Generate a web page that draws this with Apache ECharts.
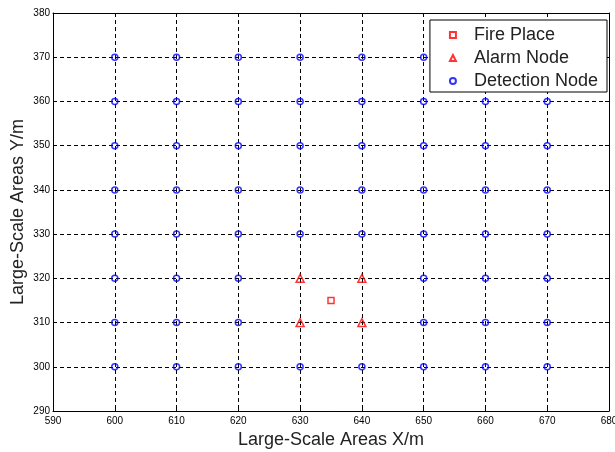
<!DOCTYPE html>
<html>
<head>
<meta charset="utf-8">
<script src="https://cdn.jsdelivr.net/npm/echarts@6/dist/echarts.min.js"></script>
<style>
  html, body { margin: 0; padding: 0; background: #fff; }
  #chart { width: 615px; height: 452px; }
</style>
</head>
<body>
<div id="chart"></div>
<script>
// axis ranges (m)
var xTicks = [590, 600, 610, 620, 630, 640, 650, 660, 670, 680]
var yTicks = [290, 300, 310, 320, 330, 340, 350, 360, 370, 380]

var firePlace = [[635, 315]]

var alarmNodes = [[630, 320], [640, 320], [630, 310], [640, 310]]

var detectionNodes = [
  [600, 370], [610, 370], [620, 370], [630, 370], [640, 370], [650, 370], [660, 370], [670, 370],
  [600, 360], [610, 360], [620, 360], [630, 360], [640, 360], [650, 360], [660, 360], [670, 360],
  [600, 350], [610, 350], [620, 350], [630, 350], [640, 350], [650, 350], [660, 350], [670, 350],
  [600, 340], [610, 340], [620, 340], [630, 340], [640, 340], [650, 340], [660, 340], [670, 340],
  [600, 330], [610, 330], [620, 330], [630, 330], [640, 330], [650, 330], [660, 330], [670, 330],
  [600, 320], [610, 320], [620, 320], [650, 320], [660, 320], [670, 320],
  [600, 310], [610, 310], [620, 310], [650, 310], [660, 310], [670, 310],
  [600, 300], [610, 300], [620, 300], [630, 300], [640, 300], [650, 300], [660, 300], [670, 300]
]

var font = 'Liberation Sans, Arial, sans-serif'
var chart = echarts.init(document.getElementById('chart'))

function axisBase (ticks, extra) {
  var a = {
    type: 'value',
    min: ticks[0],
    max: ticks[ticks.length - 1],
    interval: 10,
    axisLine: { show: true, onZero: false, lineStyle: { color: '#000', width: 1 } },
    axisTick: { show: true, inside: true, length: 4, lineStyle: { color: '#000' } },
    axisLabel: { show: false },
    splitLine: { show: false }
  }
  return Object.assign(a, extra)
}

chart.setOption({
  animation: false,
  grid: { left: 53, right: 6, top: 13, bottom: 41, outerBoundsMode: 'none', containLabel: false },
  xAxis: [
    axisBase(xTicks, {
      position: 'bottom',
      name: 'Large-Scale Areas X/m',
      nameLocation: 'middle',
      nameGap: 20,
      nameMoveOverlap: false,
      nameTextStyle: { fontSize: 18, color: '#222', fontFamily: font },
      axisLabel: { show: true, fontSize: 10, color: '#000', margin: 5, fontFamily: font },
      splitLine: { show: true, lineStyle: { color: '#000', type: [4, 3], width: 1 } }
    }),
    axisBase(xTicks, { position: 'top' })
  ],
  yAxis: [
    axisBase(yTicks, {
      position: 'left',
      name: 'Large-Scale Areas Y/m',
      nameLocation: 'middle',
      nameGap: 26,
      nameMoveOverlap: false,
      nameTextStyle: { fontSize: 18, color: '#222', fontFamily: font },
      axisLabel: { show: true, fontSize: 10, color: '#000', margin: 3, fontFamily: font },
      splitLine: { show: true, lineStyle: { color: '#000', type: [4, 3], width: 1 } }
    }),
    axisBase(yTicks, { position: 'right' })
  ],
  legend: {
    orient: 'vertical',
    right: 8,
    top: 20,
    backgroundColor: '#fff',
    borderColor: '#000',
    borderWidth: 1,
    borderRadius: 0,
    padding: [6, 9, 2, 19],
    itemGap: 5,
    itemWidth: 6,
    itemHeight: 6,
    textStyle: { fontSize: 18, color: '#222', fontFamily: font, lineHeight: 18, padding: [0, 0, 0, 13] },
    data: ['Fire Place', 'Alarm Node', 'Detection Node']
  },
  series: [
    {
      name: 'Detection Node',
      type: 'scatter',
      symbol: 'circle',
      symbolSize: 6,
      itemStyle: { color: 'rgba(0,0,0,0)', borderColor: '#0000ff', borderWidth: 1.5 },
      data: detectionNodes
    },
    {
      name: 'Alarm Node',
      type: 'scatter',
      symbol: 'triangle',
      symbolSize: 8,
      itemStyle: { color: 'rgba(0,0,0,0)', borderColor: '#ff0000', borderWidth: 1.5 },
      data: alarmNodes
    },
    {
      name: 'Fire Place',
      type: 'scatter',
      symbol: 'rect',
      symbolSize: 6,
      itemStyle: { color: 'rgba(0,0,0,0)', borderColor: '#ff0000', borderWidth: 1.5 },
      data: firePlace
    }
  ]
})
</script>
</body>
</html>
